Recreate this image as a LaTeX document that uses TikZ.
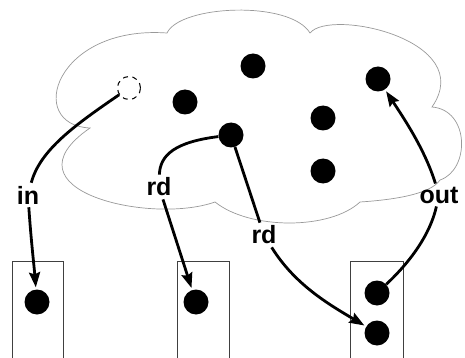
\documentclass[tikz,border=0pt]{standalone}
\usepackage{fontspec}
\setsansfont{Liberation Sans}
\usetikzlibrary{arrows.meta}
\begin{document}
\begin{tikzpicture}[x=1pt,y=-1pt,
  dot/.style={circle,fill=black,minimum size=25pt,inner sep=0pt},
  ghost/.style={circle,draw=black,dash pattern=on 5pt off 4.5pt,line width=1pt,minimum size=23pt,inner sep=0pt},
  lbl/.style={font=\sffamily\bfseries\fontsize{25}{25}\selectfont,inner sep=3pt},
  conn/.style={line width=2.8pt},
  arr/.style={conn,-{Stealth[length=15pt,width=11pt,inset=2pt]},shorten >=2pt},
  frame/.style={draw=black!75,line width=0.9pt},
  cloudline/.style={draw=black!40,line width=0.7pt}]
\useasboundingbox (0,0) rectangle (465,358);
% cloud
\coordinate (n1) at (167,33);
\coordinate (n2) at (310,33);
\coordinate (n3) at (432,107);
\coordinate (n4) at (440,180);
\coordinate (n5) at (360,202);
\coordinate (n6) at (215,202);
\coordinate (n7) at (90,128);
\draw[cloudline] (n7) .. controls (25,125) and (55,25) .. (n1)
  .. controls (180,5) and (290,0) .. (n2)
  .. controls (330,8) and (478,40) .. (n3)
  .. controls (470,110) and (470,170) .. (n4)
  .. controls (430,195) and (390,200) .. (n5)
  .. controls (330,230) and (250,230) .. (n6)
  .. controls (150,225) and (0,190) .. cycle;
% boxes
\draw[frame] (12,362) |- (63,261) -- (63,362);
\draw[frame] (177,362) |- (229,261) -- (229,362);
\draw[frame] (350,362) |- (403,261) -- (403,362);
% dots
\node[ghost] (g) at (129,88) {};
\node[dot] (a) at (253,66) {};
\node[dot] (b) at (185,102) {};
\node[dot] (c) at (378,79) {};
\node[dot] (d) at (231,135) {};
\node[dot] (e) at (323,118) {};
\node[dot] (f) at (323,171) {};
\node[dot] (p) at (37,302) {};
\node[dot] (q) at (196,302) {};
\node[dot] (r) at (377,293) {};
\node[dot] (s) at (377,333) {};
% labels
\node[lbl] (lin) at (28,195) {in};
\node[lbl] (lrd1) at (159,187) {rd};
\node[lbl] (lrd2) at (264,235) {rd};
\node[lbl] (lout) at (439,195) {out};
% connectors
\draw[conn] (g) .. controls (75,125) and (40,150) .. (lin);
\draw[arr] (lin) .. controls (31,240) and (34,265) .. (p);
\draw[conn] (d) .. controls (175,142) and (160,155) .. (lrd1);
\draw[arr] (lrd1) -- (q);
\draw[conn] (d) -- (lrd2);
\draw[arr] (lrd2) .. controls (295,285) and (330,305) .. (s);
\draw[conn] (r) .. controls (410,262) and (430,235) .. (lout);
\draw[arr] (lout) .. controls (425,150) and (405,120) .. (c);
\end{tikzpicture}
\end{document}
